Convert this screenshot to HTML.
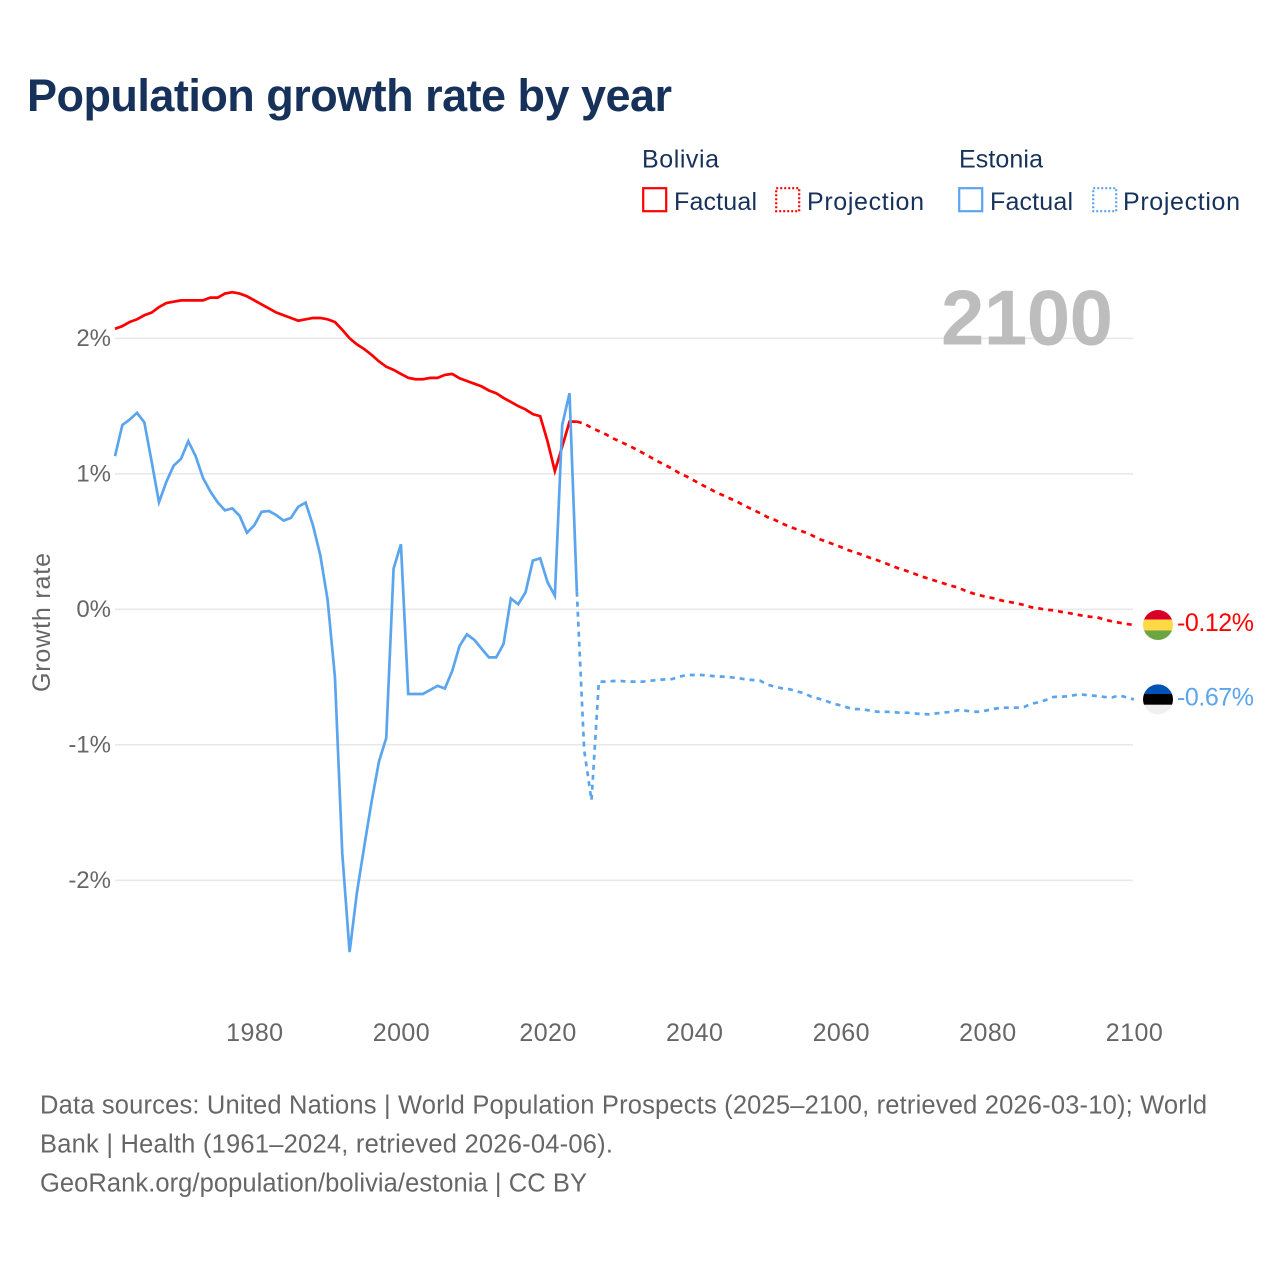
<!DOCTYPE html>
<html lang="en">
<head>
<meta charset="utf-8">
<title>Population growth rate by year</title>
<style>
html,body{margin:0;padding:0;background:#fff;}
#chart{display:block;width:1280px;height:1280px;font-family:"Liberation Sans",sans-serif;}
</style>
</head>
<body>
<svg id="chart" xmlns="http://www.w3.org/2000/svg" width="1280" height="1280" viewBox="0 0 1280 1280">
  <defs>
    <clipPath id="flag-clip"><circle cx="0" cy="0" r="15"/></clipPath>
  </defs>
  <rect width="1280" height="1280" fill="#fff"/>
  <text x="27" y="111" font-size="45" font-weight="700" fill="#17325a" textLength="645">Population growth rate by year</text>

  <g font-size="25" fill="#17325a">
    <text x="642" y="167.5" textLength="77">Bolivia</text>
    <rect x="643.2" y="188.2" width="23" height="23" fill="none" stroke="#ff0000" stroke-width="2.2"/>
    <text x="674" y="210" textLength="83">Factual</text>
    <rect x="776.2" y="188.2" width="23" height="23" fill="none" stroke="#ff0000" stroke-width="2.2" stroke-dasharray="2 2"/>
    <text x="807" y="210" textLength="117">Projection</text>
    <text x="959" y="167.5" textLength="84">Estonia</text>
    <rect x="959.2" y="188.2" width="23" height="23" fill="none" stroke="#5ba5ee" stroke-width="2.2"/>
    <text x="990" y="210" textLength="83">Factual</text>
    <rect x="1093.2" y="188.2" width="23" height="23" fill="none" stroke="#5ba5ee" stroke-width="2.2" stroke-dasharray="2 2"/>
    <text x="1123" y="210" textLength="117">Projection</text>
  </g>

  <g id="grid"></g>
  <text x="941" y="344.5" font-size="78" font-weight="700" fill="#bdbdbd" textLength="172">2100</text>
  <g id="y-ticks"></g>
  <g id="x-ticks"></g>
  <text transform="translate(50,692) rotate(-90)" font-size="25" fill="#666" textLength="139">Growth rate</text>
  <g id="series"></g>

  <g id="flag-bolivia">
    <g clip-path="url(#flag-clip)">
      <rect x="-16" y="-16" width="32" height="10.6" fill="#d80027"/>
      <rect x="-16" y="-5.4" width="32" height="10.8" fill="#ffda44"/>
      <rect x="-16" y="5.4" width="32" height="10.6" fill="#6da544"/>
    </g>
  </g>
  <g id="flag-estonia">
    <g clip-path="url(#flag-clip)">
      <rect x="-16" y="-16" width="32" height="10.6" fill="#0052b4"/>
      <rect x="-16" y="-5.4" width="32" height="10.8" fill="#000000"/>
      <rect x="-16" y="5.4" width="32" height="10.6" fill="#f0f0f0"/>
    </g>
  </g>
  <text id="value-bolivia" x="1177" font-size="25" fill="#ff0000" textLength="77"></text>
  <text id="value-estonia" x="1177" font-size="25" fill="#5ba5ee" textLength="77"></text>

  <g font-size="25.5" fill="#666">
    <text x="40" y="1113.5" textLength="1167">Data sources: United Nations | World Population Prospects (2025–2100, retrieved 2026-03-10); World</text>
    <text x="40" y="1152.5" textLength="573">Bank | Health (1961–2024, retrieved 2026-04-06).</text>
    <text x="40" y="1191.5" textLength="547">GeoRank.org/population/bolivia/estonia | CC BY</text>
  </g>
</svg>
<script>
const yTicks = [2, 1, 0, -1, -2];
const yTickLabels = ["2%", "1%", "0%", "-1%", "-2%"];
const xTicks = [1980, 2000, 2020, 2040, 2060, 2080, 2100];
const xTickLabels = ["1980", "2000", "2020", "2040", "2060", "2080", "2100"];

const factualYears = [1961,1962,1963,1964,1965,1966,1967,1968,1969,1970,1971,1972,1973,1974,1975,1976,1977,1978,1979,1980,1981,1982,1983,1984,1985,1986,1987,1988,1989,1990,1991,1992,1993,1994,1995,1996,1997,1998,1999,2000,2001,2002,2003,2004,2005,2006,2007,2008,2009,2010,2011,2012,2013,2014,2015,2016,2017,2018,2019,2020,2021,2022,2023,2024];
const projectionYears = [2024,2025,2026,2027,2028,2029,2030,2031,2032,2033,2034,2035,2036,2037,2038,2039,2040,2041,2042,2043,2044,2045,2046,2047,2048,2049,2050,2051,2052,2053,2054,2055,2056,2057,2058,2059,2060,2061,2062,2063,2064,2065,2066,2067,2068,2069,2070,2071,2072,2073,2074,2075,2076,2077,2078,2079,2080,2081,2082,2083,2084,2085,2086,2087,2088,2089,2090,2091,2092,2093,2094,2095,2096,2097,2098,2099,2100];

const boliviaFactual = [2.07,2.09,2.12,2.14,2.17,2.19,2.23,2.26,2.27,2.28,2.28,2.28,2.28,2.30,2.30,2.33,2.34,2.33,2.31,2.28,2.25,2.22,2.19,2.17,2.15,2.13,2.14,2.15,2.15,2.14,2.12,2.063,2.00,1.955,1.92,1.878,1.83,1.79,1.767,1.737,1.708,1.698,1.698,1.708,1.708,1.73,1.737,1.705,1.685,1.665,1.645,1.615,1.595,1.56,1.53,1.50,1.475,1.44,1.425,1.24,1.02,1.20,1.385,1.385];
const boliviaProjection = [1.385,1.37,1.34,1.315,1.29,1.26,1.235,1.21,1.183,1.154,1.124,1.093,1.065,1.038,1.004,0.98,0.95,0.92,0.893,0.863,0.84,0.815,0.79,0.762,0.735,0.71,0.68,0.66,0.633,0.61,0.59,0.57,0.548,0.52,0.50,0.48,0.46,0.437,0.42,0.40,0.38,0.362,0.342,0.32,0.30,0.283,0.263,0.243,0.226,0.209,0.192,0.175,0.16,0.137,0.118,0.103,0.09,0.08,0.064,0.054,0.044,0.032,0.015,0.007,-0.003,-0.007,-0.018,-0.027,-0.037,-0.047,-0.055,-0.059,-0.077,-0.089,-0.099,-0.108,-0.116];
const estoniaFactual = [1.13,1.36,1.40,1.45,1.38,1.09,0.79,0.94,1.06,1.11,1.24,1.13,0.97,0.87,0.79,0.73,0.745,0.69,0.565,0.62,0.72,0.725,0.695,0.655,0.675,0.757,0.787,0.62,0.40,0.07,-0.50,-1.80,-2.53,-2.09,-1.75,-1.42,-1.125,-0.95,0.30,0.48,-0.625,-0.625,-0.625,-0.595,-0.565,-0.585,-0.455,-0.27,-0.185,-0.225,-0.29,-0.355,-0.355,-0.256,0.08,0.037,0.125,0.36,0.376,0.20,0.10,1.36,1.595,0.13];
const estoniaProjection = [0.13,-1.04,-1.41,-0.534,-0.534,-0.529,-0.529,-0.534,-0.534,-0.534,-0.527,-0.522,-0.517,-0.515,-0.497,-0.485,-0.485,-0.485,-0.49,-0.495,-0.497,-0.502,-0.507,-0.517,-0.522,-0.527,-0.556,-0.571,-0.583,-0.59,-0.605,-0.62,-0.645,-0.66,-0.677,-0.697,-0.709,-0.726,-0.736,-0.738,-0.748,-0.756,-0.756,-0.758,-0.763,-0.763,-0.768,-0.773,-0.775,-0.768,-0.763,-0.756,-0.745,-0.748,-0.756,-0.756,-0.745,-0.734,-0.726,-0.726,-0.726,-0.721,-0.697,-0.686,-0.669,-0.647,-0.645,-0.642,-0.632,-0.63,-0.635,-0.64,-0.647,-0.65,-0.635,-0.65,-0.665];
const boliviaEndLabel = "-0.12%";
const estoniaEndLabel = "-0.67%";

const SVGNS = "http://www.w3.org/2000/svg";
const plotLeft = 115, plotRight = 1134, xMin = 1961, xMax = 2100;
const yZero = 609.3, pxPerUnit = 135.5;
function xScale(year) { return plotLeft + (year - xMin) * (plotRight - plotLeft) / (xMax - xMin); }
function yScale(value) { return yZero - value * pxPerUnit; }
function make(tag, attrs, parent) {
  const el = document.createElementNS(SVGNS, tag);
  for (const k in attrs) el.setAttribute(k, attrs[k]);
  parent.appendChild(el);
  return el;
}
function linePath(years, values) {
  return values.map(function (v, i) {
    return (i ? "L" : "M") + xScale(years[i]).toFixed(2) + " " + yScale(v).toFixed(2);
  }).join("");
}

const gridGroup = document.getElementById("grid");
const yTickGroup = document.getElementById("y-ticks");
yTicks.forEach(function (t, i) {
  const gl = make("line", { x1: plotLeft, x2: plotRight - 1, y1: yScale(t), y2: yScale(t), stroke: "#e9e9e9", "stroke-width": 1.6 }, gridGroup);
  
  
  const lab = make("text", { x: 111, y: yScale(t) + 7.5, "text-anchor": "end", "font-size": 24, fill: "#666" }, yTickGroup);
  
  
  lab.textContent = yTickLabels[i];
});

const xTickGroup = document.getElementById("x-ticks");
xTicks.forEach(function (t, i) {
  const lab = make("text", { x: xScale(t) + 0.3, y: 1041, "text-anchor": "middle", "font-size": 25, fill: "#666", textLength: 57 }, xTickGroup);
  
  
  lab.textContent = xTickLabels[i];
});

const seriesGroup = document.getElementById("series");
const redColor = "#ff0000", blueColor = "#5ba5ee", dash = "5 5";

const boliviaFactualLine = make("path", { d: linePath(factualYears, boliviaFactual), fill: "none", stroke: redColor, "stroke-width": 2.7, "stroke-linejoin": "miter" }, seriesGroup);



const boliviaProjectionLine = make("path", { d: linePath(projectionYears, boliviaProjection), fill: "none", stroke: redColor, "stroke-width": 2.7, "stroke-dasharray": dash }, seriesGroup);



const estoniaFactualLine = make("path", { d: linePath(factualYears, estoniaFactual), fill: "none", stroke: blueColor, "stroke-width": 2.7, "stroke-linejoin": "miter" }, seriesGroup);



const estoniaProjectionLine = make("path", { d: linePath(projectionYears, estoniaProjection), fill: "none", stroke: blueColor, "stroke-width": 2.7, "stroke-dasharray": dash }, seriesGroup);



const boliviaEndY = yScale(boliviaProjection[boliviaProjection.length - 1]);
const estoniaEndY = yScale(estoniaProjection[estoniaProjection.length - 1]);
document.getElementById("flag-bolivia").setAttribute("transform", "translate(1158," + boliviaEndY + ")");
document.getElementById("flag-estonia").setAttribute("transform", "translate(1158," + estoniaEndY + ")");
const boliviaValue = document.getElementById("value-bolivia");
boliviaValue.setAttribute("y", boliviaEndY + 6);
boliviaValue.textContent = boliviaEndLabel;
const estoniaValue = document.getElementById("value-estonia");
estoniaValue.setAttribute("y", estoniaEndY + 6);
estoniaValue.textContent = estoniaEndLabel;
</script>
</body>
</html>
